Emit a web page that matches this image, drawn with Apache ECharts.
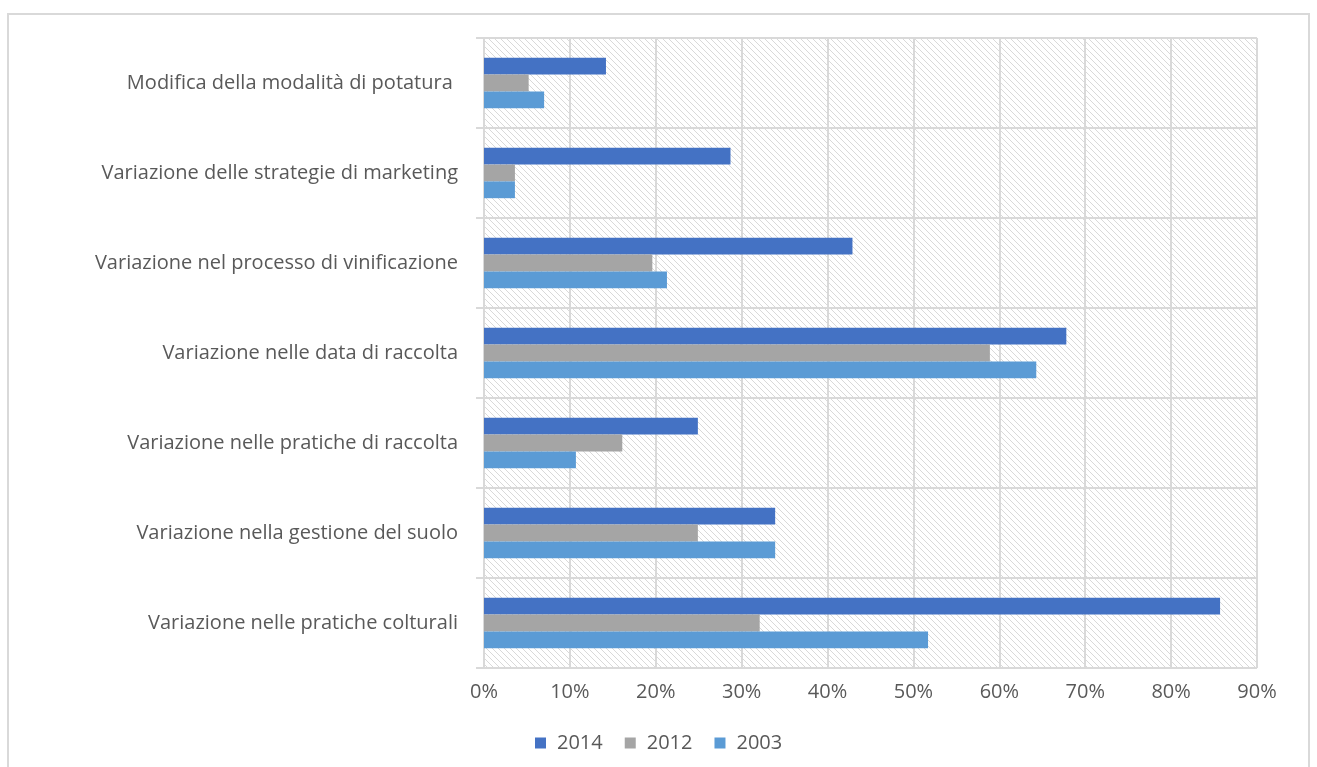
<!DOCTYPE html>
<html>
<head>
<meta charset="utf-8">
<script src="https://cdn.jsdelivr.net/npm/echarts@6/dist/echarts.min.js"></script>
<style>
html,body{margin:0;padding:0;background:#fff;}
#frame{position:absolute;left:7px;top:13px;width:1303px;height:760px;border:2px solid #d9d9d9;box-sizing:border-box;}
#main{position:absolute;left:0;top:0;width:1317px;height:767px;}
</style>
</head>
<body>
<div id="frame"></div>
<div id="main"></div>
<script>
const categories = [
  'Variazione nelle pratiche colturali',
  'Variazione nella gestione del suolo',
  'Variazione nelle pratiche di raccolta',
  'Variazione nelle data di raccolta',
  'Variazione nel processo di vinificazione',
  'Variazione delle strategie di marketing',
  'Modifica della modalità di potatura '
];
const values2014 = [85.7, 33.9, 24.9, 67.8, 42.9, 28.7, 14.2];
const values2012 = [32.1, 24.9, 16.1, 58.9, 19.6, 3.6, 5.2];
const values2003 = [51.7, 33.9, 10.7, 64.3, 21.3, 3.6, 7.0];
const seriesNames = ['2014', '2012', '2003'];
const seriesColors = ['#4472c4', '#a5a5a5', '#5b9bd5'];

const pc = document.createElement('canvas');
pc.width = 6; pc.height = 6;
const ctx = pc.getContext('2d');
ctx.fillStyle = '#ffffff';
ctx.fillRect(0, 0, 6, 6);
ctx.strokeStyle = '#d9d9d9';
ctx.lineWidth = 1;
ctx.beginPath();
ctx.moveTo(-1, -1); ctx.lineTo(7, 7);
ctx.moveTo(-7, -1); ctx.lineTo(1, 7);
ctx.moveTo(5, -1); ctx.lineTo(13, 7);
ctx.stroke();

const font = 'Open Sans';
const chart = echarts.init(document.getElementById('main'));
const data = [values2014, values2012, values2003];
chart.setOption({
  animation: false,
  grid: {
    left: 484, top: 38, right: 60, bottom: 99,
    show: true,
    backgroundColor: { image: pc, repeat: 'repeat' },
    borderWidth: 0
  },
  legend: {
    top: 728,
    left: 530,
    itemWidth: 11,
    itemHeight: 11,
    itemGap: 22,
    icon: 'rect',
    data: seriesNames,
    textStyle: { color: '#595959', fontSize: 20, fontFamily: font, padding: [0, 0, 0, 6] }
  },
  xAxis: {
    type: 'value',
    min: 0, max: 90, interval: 10,
    axisLine: { show: false },
    axisTick: { show: false },
    axisLabel: { formatter: '{value}%', color: '#595959', fontSize: 20, fontFamily: font, margin: 14 },
    splitLine: { show: true, lineStyle: { color: '#d9d9d9', width: 2 } }
  },
  yAxis: {
    type: 'category',
    data: categories,
    axisLine: { show: true, lineStyle: { color: '#d9d9d9', width: 2 } },
    axisTick: { show: true, length: 8, lineStyle: { color: '#d9d9d9', width: 2 } },
    axisLabel: { color: '#595959', fontSize: 20, fontFamily: font, margin: 26 },
    splitLine: { show: true, lineStyle: { color: '#d9d9d9', width: 2 } }
  },
  series: seriesNames.map((n, i) => ({
    name: n,
    type: 'bar',
    data: data[i],
    barGap: '0%',
    barCategoryGap: '44%',
    itemStyle: { color: seriesColors[i] }
  }))
});
</script>
</body>
</html>
